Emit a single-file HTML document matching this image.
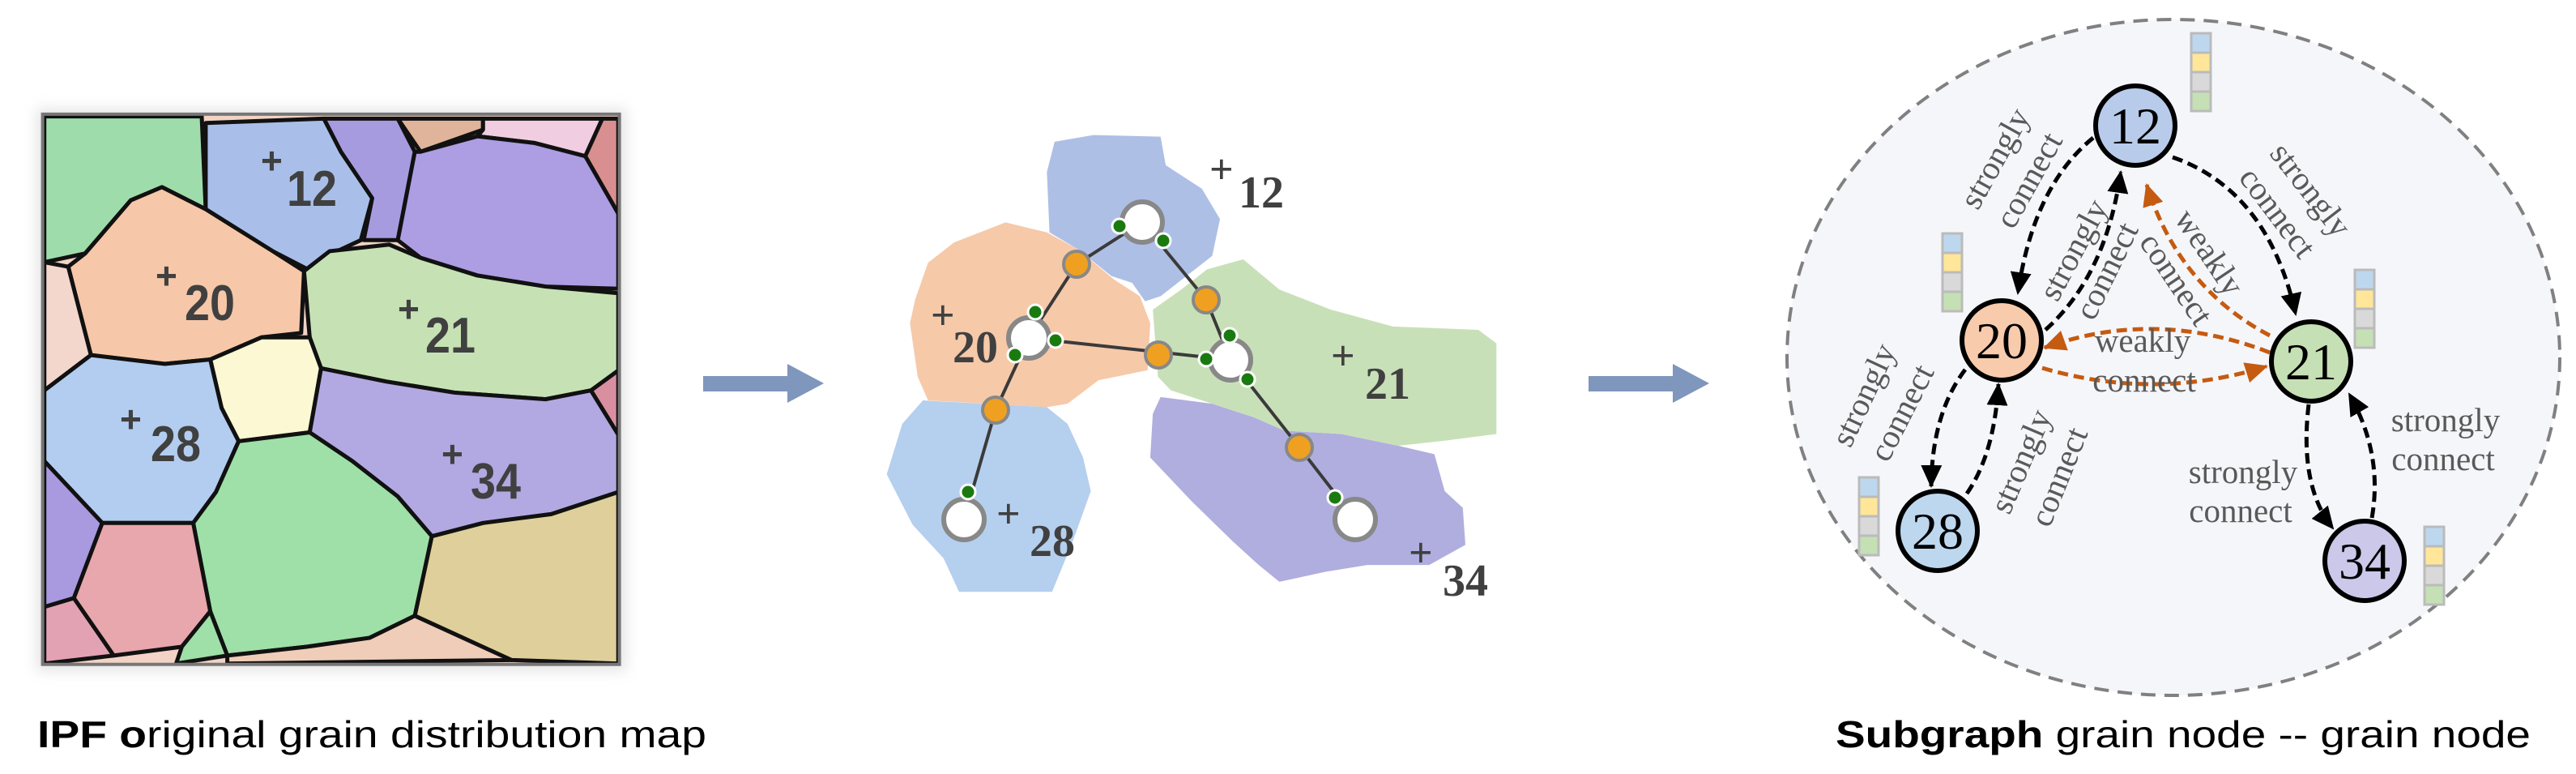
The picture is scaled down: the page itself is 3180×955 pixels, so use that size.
<!DOCTYPE html>
<html><head><meta charset="utf-8"><style>
html,body{margin:0;padding:0;background:#fff;}
svg{display:block;}
</style></head><body>
<svg width="3180" height="955" viewBox="0 0 3180 955" xmlns="http://www.w3.org/2000/svg">
<defs>
<marker id="ab" markerUnits="userSpaceOnUse" markerWidth="30" markerHeight="26" refX="26" refY="13" orient="auto"><path d="M0,0 L28,13 L0,26 z" fill="#000"/></marker>
<marker id="ao" markerUnits="userSpaceOnUse" markerWidth="30" markerHeight="26" refX="26" refY="13" orient="auto"><path d="M0,0 L28,13 L0,26 z" fill="#c55a11"/></marker>
<filter id="sh" x="-10%" y="-10%" width="120%" height="120%"><feGaussianBlur stdDeviation="8"/></filter>
</defs>

<!-- ===== Panel 1: IPF map ===== -->
<rect x="45" y="134" width="728" height="694" fill="#ccc" opacity="0.5" filter="url(#sh)"/>
<g transform="translate(0,100) scale(0.7015,0.5453)">
<rect x="75" y="75" width="1015" height="1245" fill="#f2d3c6"/>
<g stroke="#111" stroke-width="5" stroke-linejoin="round">
<polygon vector-effect="non-scaling-stroke" fill="#9fdcab" points="78,80 355,80 362,290 285,240 230,270 150,390 78,410"/>
<polygon vector-effect="non-scaling-stroke" fill="#a9bfe9" points="362,95 570,85 600,160 655,265 635,360 585,390 540,425 480,385 362,290"/>
<polygon vector-effect="non-scaling-stroke" fill="#a79be0" points="570,85 700,85 730,160 700,360 640,360 655,265 600,160"/>
<polygon vector-effect="non-scaling-stroke" fill="#dfb49a" points="700,85 850,85 850,110 740,160"/>
<polygon vector-effect="non-scaling-stroke" fill="#f0cde0" points="850,85 1060,85 1030,170 940,140 840,125 850,110"/>
<polygon vector-effect="non-scaling-stroke" fill="#d98f8f" points="1060,85 1088,85 1088,300 1030,170"/>
<polygon vector-effect="non-scaling-stroke" fill="#ad9de3" points="740,160 840,125 940,140 1030,170 1088,300 1088,470 960,465 840,440 740,400 700,360 730,160"/>
<polygon vector-effect="non-scaling-stroke" fill="#f6c7a8" points="150,390 230,270 285,240 362,290 480,385 535,430 530,570 460,580 370,630 290,640 160,620 120,420"/>
<polygon vector-effect="non-scaling-stroke" fill="#f3d6cc" points="78,410 120,420 160,620 78,700"/>
<polygon vector-effect="non-scaling-stroke" fill="#c6e2b5" points="535,430 580,385 685,370 740,400 840,440 960,465 1088,480 1088,655 1040,700 960,720 800,705 680,680 565,650 545,580"/>
<polygon vector-effect="non-scaling-stroke" fill="#fbf8d3" points="370,630 460,580 545,580 565,650 545,795 420,815 390,740"/>
<polygon vector-effect="non-scaling-stroke" fill="#b3cdf0" points="78,700 160,620 290,640 370,630 390,740 420,815 380,930 340,1000 180,1000 78,860"/>
<polygon vector-effect="non-scaling-stroke" fill="#b2a9e2" points="565,650 680,680 800,705 960,720 1040,700 1088,800 1088,930 970,980 850,1000 760,1030 700,940 620,860 545,795"/>
<polygon vector-effect="non-scaling-stroke" fill="#d98f9f" points="1040,700 1088,655 1088,800"/>
<polygon vector-effect="non-scaling-stroke" fill="#9ee0a8" points="420,815 545,795 620,860 700,940 760,1030 730,1210 650,1260 540,1280 400,1300 370,1200 340,1000 380,930"/>
<polygon vector-effect="non-scaling-stroke" fill="#dfcf9a" points="760,1030 850,1000 970,980 1088,930 1088,1318 900,1310 730,1210"/>
<polygon vector-effect="non-scaling-stroke" fill="#a999df" points="78,860 180,1000 130,1170 78,1190"/>
<polygon vector-effect="non-scaling-stroke" fill="#e8a6ad" points="180,1000 340,1000 370,1200 320,1280 200,1300 130,1170"/>
<polygon vector-effect="non-scaling-stroke" fill="#e3a2b3" points="78,1190 130,1170 200,1300 78,1318"/>
<polygon vector-effect="non-scaling-stroke" fill="#9ee0a8" points="320,1280 370,1200 400,1300 310,1318"/>
<polygon vector-effect="non-scaling-stroke" fill="#f0cdb8" points="400,1300 540,1280 650,1260 730,1210 900,1310 400,1318"/>
</g>
<rect x="75" y="75" width="1015" height="1245" fill="none" stroke="#777" stroke-width="4" vector-effect="non-scaling-stroke"/>
</g>
<g font-family="Liberation Sans, sans-serif" font-weight="bold" fill="#404040">
<text x="322" y="214" font-size="46">+</text><text x="354" y="254" font-size="62" textLength="62" lengthAdjust="spacingAndGlyphs">12</text>
<text x="192" y="356" font-size="46">+</text><text x="228" y="395" font-size="62" textLength="62" lengthAdjust="spacingAndGlyphs">20</text>
<text x="491" y="397" font-size="46">+</text><text x="525" y="435" font-size="62" textLength="62" lengthAdjust="spacingAndGlyphs">21</text>
<text x="148" y="533" font-size="46">+</text><text x="186" y="569" font-size="62" textLength="62" lengthAdjust="spacingAndGlyphs">28</text>
<text x="545" y="576" font-size="46">+</text><text x="581" y="615" font-size="62" textLength="62" lengthAdjust="spacingAndGlyphs">34</text>
</g>
<text x="46" y="922" font-family="Liberation Sans, sans-serif" font-size="46" fill="#000" textLength="826" lengthAdjust="spacingAndGlyphs"><tspan font-weight="bold">IPF  o</tspan>riginal grain distribution map</text>

<!-- arrows -->
<rect x="868" y="464" width="106" height="19" fill="#7f96bd"/>
<polygon points="972,449 1017,473 972,497" fill="#7f96bd"/>
<rect x="1961" y="464" width="106" height="19" fill="#7f96bd"/>
<polygon points="2065,449 2110,473 2065,497" fill="#7f96bd"/>

<!-- ===== Panel 2 ===== -->
<g transform="translate(1050,150) scale(0.6378,0.4145)">
<polygon fill="#aebfe6" points="395,60 470,40 600,45 610,130 680,200 715,290 700,400 650,460 600,520 570,535 545,480 505,460 440,380 385,330 380,150"/>
<polygon fill="#f6c9a9" points="125,530 150,420 200,360 300,300 380,330 440,380 510,470 560,520 580,600 575,740 480,770 420,840 380,850 150,830 130,760 115,600"/>
<polygon fill="#b5cfee" points="140,830 380,850 420,900 450,1000 465,1100 430,1250 390,1400 210,1400 180,1300 120,1200 70,1050 100,900"/>
<polygon fill="#b0aede" points="600,820 700,840 780,880 840,920 950,930 1060,965 1130,990 1150,1100 1185,1150 1190,1260 1120,1320 1000,1320 920,1340 830,1370 790,1320 740,1250 660,1130 580,1000 585,870"/>
<polygon fill="#c8e0b8" points="585,560 640,500 690,440 760,410 830,500 930,560 1050,610 1215,620 1250,660 1250,930 1150,950 1060,965 950,930 840,920 780,880 700,840 620,800 595,760"/>
</g>
<g stroke="#3a3a3a" stroke-width="4">
<polyline fill="none" points="1410,274 1329,326 1270,417 1229,506 1190,641"/>
<polyline fill="none" points="1410,274 1489,370 1519,444 1604,552 1673,641"/>
<line x1="1270" y1="417" x2="1519" y2="444"/>
</g>
<g fill="#fff" stroke="#888" stroke-width="6">
<circle cx="1410" cy="274" r="25"/><circle cx="1270" cy="417" r="25"/><circle cx="1519" cy="444" r="25"/><circle cx="1190" cy="641" r="25"/><circle cx="1673" cy="641" r="25"/>
</g>
<g fill="#f0a020" stroke="#888" stroke-width="4">
<circle cx="1329" cy="326" r="16"/><circle cx="1489" cy="370" r="16"/><circle cx="1430" cy="438" r="16"/><circle cx="1229" cy="506" r="16"/><circle cx="1604" cy="552" r="16"/>
</g>
<g fill="#1a7a10" stroke="#fff" stroke-width="3">
<circle cx="1382" cy="279" r="9"/><circle cx="1436" cy="297" r="9"/><circle cx="1278" cy="385" r="9"/><circle cx="1303" cy="420" r="9"/><circle cx="1253" cy="438" r="9"/><circle cx="1518" cy="414" r="9"/><circle cx="1489" cy="443" r="9"/><circle cx="1540" cy="468" r="9"/><circle cx="1195" cy="607" r="9"/><circle cx="1648" cy="614" r="9"/>
</g>
<g font-family="Liberation Serif, serif" font-weight="bold" fill="#404040">
<text x="1493" y="226" font-size="52">+</text><text x="1529" y="256" font-size="56">12</text>
<text x="1149" y="406" font-size="52">+</text><text x="1176" y="447" font-size="56">20</text>
<text x="1643" y="456" font-size="52">+</text><text x="1685" y="492" font-size="56">21</text>
<text x="1230" y="651" font-size="52">+</text><text x="1271" y="686" font-size="56">28</text>
<text x="1739" y="699" font-size="52">+</text><text x="1781" y="735" font-size="56">34</text>
</g>

<!-- ===== Panel 3: Subgraph ===== -->
<ellipse cx="2683" cy="441" rx="477" ry="417" fill="#f5f6fa" stroke="#808080" stroke-width="4" stroke-dasharray="18 11"/>

<g fill="none" stroke-width="5" stroke-dasharray="13 7">
<path d="M2584,170 Q2510,230 2491,362" stroke="#000" marker-end="url(#ab)"/>
<path d="M2525,407 Q2600,340 2618,212" stroke="#000" marker-end="url(#ab)"/>
<path d="M2682,194 Q2800,235 2834,388" stroke="#000" marker-end="url(#ab)"/>
<path d="M2426,456 Q2385,510 2384,600" stroke="#000" marker-end="url(#ab)"/>
<path d="M2428,609 Q2462,560 2467,474" stroke="#000" marker-end="url(#ab)"/>
<path d="M2850,499 Q2838,600 2880,652" stroke="#000" marker-end="url(#ab)"/>
<path d="M2928,639 Q2942,560 2900,486" stroke="#000" marker-end="url(#ab)"/>
<path d="M2802,414 Q2690,355 2650,228" stroke="#c55a11" marker-end="url(#ao)"/>
<path d="M2802,435 Q2660,380 2524,429" stroke="#c55a11" marker-end="url(#ao)"/>
<path d="M2521,454 Q2660,495 2798,452" stroke="#c55a11" marker-end="url(#ao)"/>
</g>

<g stroke="#000" stroke-width="6">
<circle cx="2636" cy="155" r="49" fill="#b8cbeb"/>
<circle cx="2471" cy="420" r="49" fill="#f8cbad"/>
<circle cx="2853" cy="446" r="49" fill="#c5e0b4"/>
<circle cx="2392" cy="655" r="49" fill="#bdd7ee"/>
<circle cx="2919" cy="692" r="49" fill="#ccc8ea"/>
</g>
<g font-family="Liberation Serif, serif" font-size="64" fill="#000" text-anchor="middle">
<text x="2636" y="177">12</text><text x="2471" y="442">20</text><text x="2853" y="468">21</text><text x="2392" y="677">28</text><text x="2919" y="714">34</text>
</g>

<!-- color bars -->
<g stroke="#bbb" stroke-width="3">
<g transform="translate(2705,41)"><rect width="24" height="24" fill="#bdd7ee"/><rect y="24" width="24" height="24" fill="#ffe699"/><rect y="48" width="24" height="24" fill="#d9d9d9"/><rect y="72" width="24" height="24" fill="#c5e0b4"/></g>
<g transform="translate(2398,288)"><rect width="24" height="24" fill="#bdd7ee"/><rect y="24" width="24" height="24" fill="#ffe699"/><rect y="48" width="24" height="24" fill="#d9d9d9"/><rect y="72" width="24" height="24" fill="#c5e0b4"/></g>
<g transform="translate(2907,333)"><rect width="24" height="24" fill="#bdd7ee"/><rect y="24" width="24" height="24" fill="#ffe699"/><rect y="48" width="24" height="24" fill="#d9d9d9"/><rect y="72" width="24" height="24" fill="#c5e0b4"/></g>
<g transform="translate(2295,589)"><rect width="24" height="24" fill="#bdd7ee"/><rect y="24" width="24" height="24" fill="#ffe699"/><rect y="48" width="24" height="24" fill="#d9d9d9"/><rect y="72" width="24" height="24" fill="#c5e0b4"/></g>
<g transform="translate(2993,650)"><rect width="24" height="24" fill="#bdd7ee"/><rect y="24" width="24" height="24" fill="#ffe699"/><rect y="48" width="24" height="24" fill="#d9d9d9"/><rect y="72" width="24" height="24" fill="#c5e0b4"/></g>
</g>

<!-- edge labels -->
<g font-family="Liberation Serif, serif" font-size="41" fill="#595959" text-anchor="middle" dominant-baseline="central">
<text transform="translate(2462,195) rotate(-61)">strongly</text>
<text transform="translate(2504,222) rotate(-61)">connect</text>
<text transform="translate(2559,308) rotate(-62)">strongly</text>
<text transform="translate(2600,334) rotate(-64)">connect</text>
<text transform="translate(2853,234) rotate(52)">strongly</text>
<text transform="translate(2812,262) rotate(53)">connect</text>
<text transform="translate(2728,311) rotate(56)">weakly</text>
<text transform="translate(2687,344) rotate(56)">connect</text>
<text x="2645" y="420">weakly</text>
<text x="2647" y="469">connect</text>
<text transform="translate(2300,487) rotate(-65)">strongly</text>
<text transform="translate(2347,509) rotate(-63)">connect</text>
<text transform="translate(2494,569) rotate(-67)">strongly</text>
<text transform="translate(2541,588) rotate(-68)">connect</text>
<text x="2769" y="582">strongly</text>
<text x="2766" y="630">connect</text>
<text x="3019" y="518">strongly</text>
<text x="3016" y="566">connect</text>
</g>

<text x="2266" y="922" font-family="Liberation Sans, sans-serif" font-size="46" fill="#000" textLength="858" lengthAdjust="spacingAndGlyphs"><tspan font-weight="bold">Subgraph</tspan>   grain node  -- grain node</text>
</svg>
</body></html>
